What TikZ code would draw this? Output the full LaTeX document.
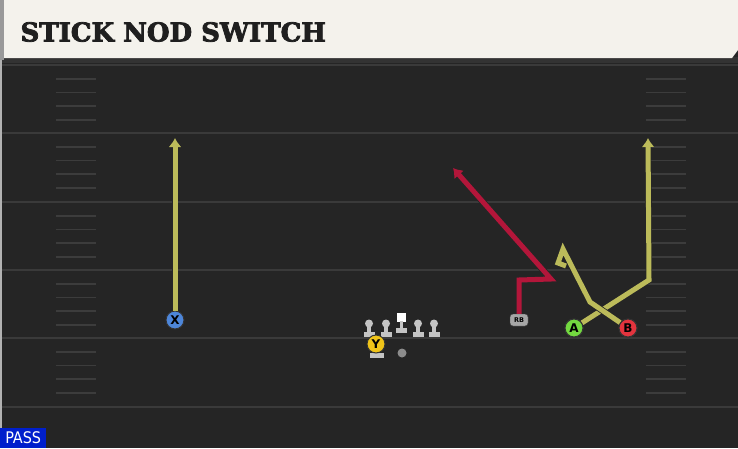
\documentclass[tikz,border=0pt]{standalone}
\usepackage{fontspec}
\usetikzlibrary{%
  arrows.meta,%
  calc%
}
\newfontfamily\titlefont{DejaVu Serif}[BoldFeatures={FakeBold=3}]
\newfontfamily\tagfont{DejaVu Sans}
\newfontfamily\passfont{DejaVu Sans Condensed}
\definecolor{field}{HTML}{252525}
\definecolor{yardline}{HTML}{3A3A3A}
\definecolor{hashline}{HTML}{3C3C3C}
\definecolor{header}{HTML}{F4F2EC}
\definecolor{routeyel}{HTML}{BCBB5A}
\definecolor{routered}{HTML}{B3163A}
\definecolor{xblue}{HTML}{4D86D9}
\definecolor{yyel}{HTML}{F0C419}
\definecolor{agreen}{HTML}{73D940}
\definecolor{bred}{HTML}{E3343E}
\definecolor{oline}{HTML}{C4C4C4}
\tikzset{>={Latex[length=9pt,width=13pt]},%
  route/.style={line width=5pt,line join=miter,
    preaction={draw=black!85,line width=6.6pt}},
  player/.style={circle,draw=black!80,line width=1pt,inner sep=0pt,
    minimum size=18pt,font=\tagfont\bfseries\fontsize{12}{12}\selectfont},
  lineman/.style={fill=oline}}

\begin{document}
\begin{tikzpicture}[x=1pt,y=-1pt]
    \useasboundingbox (0,0) rectangle (738,448);
    % field and header
    \fill[field] (0,0) rectangle (738,448);
    \fill[black!80] (0,57) rectangle (738,63);
    \fill[header] (4,0) -- (738,0) -- (738,50) -- (732,58) -- (4,58) -- cycle;
    \fill[black!40] (0,0) rectangle (4,60);
    \fill[black!30] (0,60) rectangle (2,448);
    \node[anchor=west,text=black!88,font=\titlefont\bfseries\fontsize{26}{26}\selectfont]
      (title) at (17,32) {STICK NOD SWITCH};
    % yard lines and hashes
    \foreach \y in {65,133,202,270,338,407} {\draw[yardline,line width=2pt] (2,\y) -- (738,\y);};
    \foreach \y in {65,133,202,270,338} {
      \foreach \d in {14,27.5,41,55} {
        \draw[hashline,line width=1.6pt] (56,\y+\d) -- (96,\y+\d);
        \draw[hashline,line width=1.6pt] (646,\y+\d) -- (686,\y+\d);};};
    % offensive line
    \foreach \x in {369,386,418,434} {
      \fill[lineman] (\x,323.5) circle (4);
      \fill[lineman] (\x-2,324) rectangle (\x+2,333);
      \fill[lineman] (\x-5.5,332) rectangle (\x+5.5,337);};
    \node[fill=white,inner sep=0pt,minimum size=9pt] (c) at (401,317.5) {};
    \fill[lineman] (399.5,321) rectangle (403,329);
    \fill[lineman] (395.5,328) rectangle (407,333);
    \node[circle,fill=black!45,inner sep=0pt,minimum size=9pt] (qb) at (402,353) {};
    \fill[lineman] (369.5,353) rectangle (384,358);
    % skill players
    \node[player,fill=xblue] (x) at (175,320) {X};
    \node[player,fill=yyel] (y) at (376,344) {Y};
    \node[player,fill=agreen] (a) at (574,328) {A};
    \node[player,fill=bred] (b) at (628,328) {B};
    \node[rounded corners=3pt,fill=black!35,draw=black!75,inner sep=0pt,
      minimum width=18pt,minimum height=12pt,font=\tagfont\bfseries\fontsize{6.5}{6.5}\selectfont]
      (rb) at (519,320) {RB};
    % routes
    \coordinate (xend) at (175,138);
    \coordinate (rb1) at (519,280);
    \coordinate (rb2) at (551,279);
    \coordinate (rbend) at (453,168);
    \coordinate (a1) at (649,280);
    \coordinate (aend) at (648,138);
    \coordinate (b1) at (590,302);
    \coordinate (b2) at (563,249);
    \coordinate (b3) at (558,263);
    \coordinate (b4) at (566,266);
    \draw[route,routeyel,->] (x) -- (xend);
    \draw[route,routered,->] (rb) -- (rb1) -- (rb2) -- (rbend);
    \draw[route,routeyel,->] (a) -- (a1) -- (aend);
    \draw[route,routeyel] (b) -- (b1) -- (b2) -- (b3) -- (b4);
    \node[player,fill=agreen] at (a) {A};
    \node[player,fill=bred] at (b) {B};
    % play tag
    \node[fill=blue!85!cyan!80!black,text=white,anchor=south west,inner sep=1pt,
      minimum width=46pt,minimum height=20pt,font=\passfont\fontsize{16}{16}\selectfont]
      (tag) at (0,448) {PASS};
\end{tikzpicture}
\end{document}
